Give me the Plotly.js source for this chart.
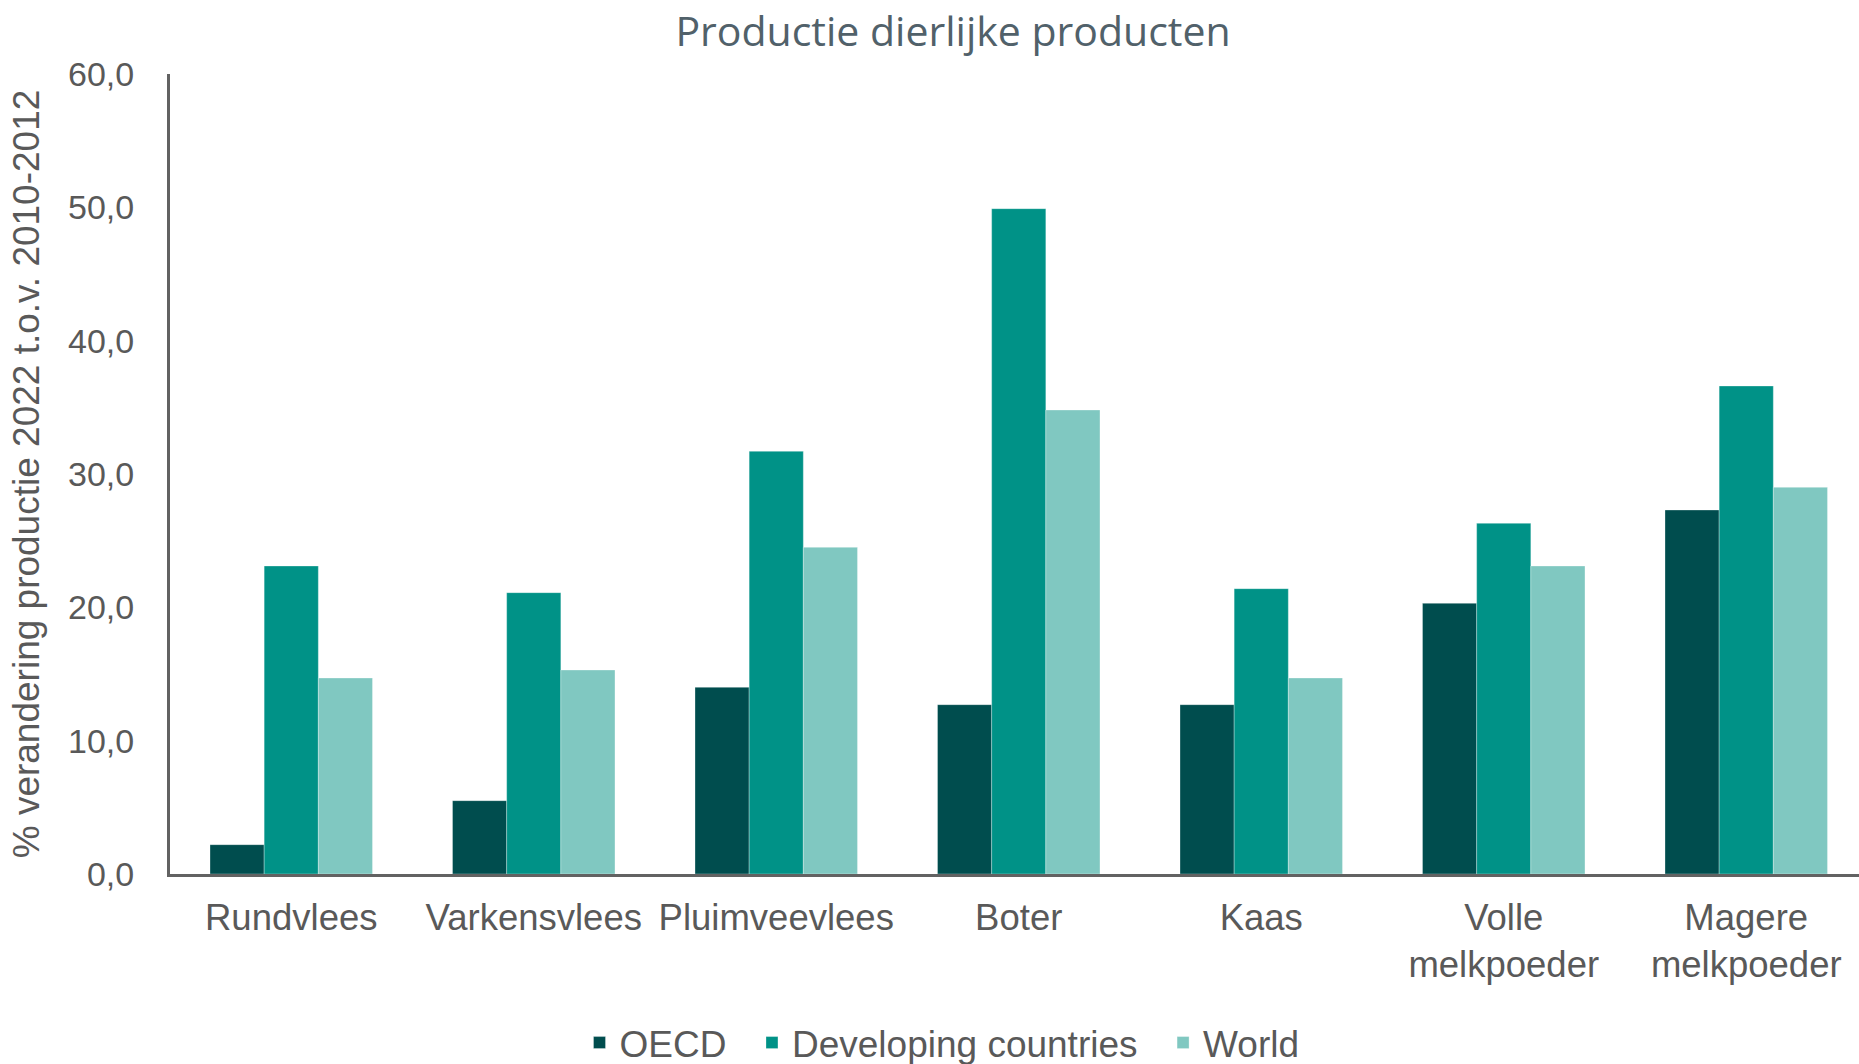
<!DOCTYPE html>
<html>
<head>
<meta charset="utf-8">
<script src="https://cdn.plot.ly/plotly-3.0.1.min.js"></script>
<style>html,body{margin:0;padding:0;background:#fff;}#chart{width:1859px;height:1064px;}</style>
</head>
<body>
<div id="chart"></div>
<script>
const categories = ["Rundvlees", "Varkensvlees", "Pluimveevlees", "Boter", "Kaas", "Volle<br>melkpoeder", "Magere<br>melkpoeder"];
const seriesNames = ["OECD", "Developing countries", "World"];
const oecd = [2.2, 5.5, 14.0, 12.7, 12.7, 20.3, 27.3];
const developing = [23.1, 21.1, 31.7, 49.9, 21.4, 26.3, 36.6];
const world = [14.7, 15.3, 24.5, 34.8, 14.7, 23.1, 29.0];
const yTickVals = [0, 10, 20, 30, 40, 50, 60];
const yTickText = ["0,0", "10,0", "20,0", "30,0", "40,0", "50,0", "60,0"];

const pad = "\u00a0\u00a0";
const lineStyle = {color: "rgba(255,255,255,0.6)", width: 0.5};
const traces = [
  {type: "bar", name: seriesNames[0] + pad, x: categories, y: oecd, marker: {color: "#004D4E", line: lineStyle}},
  {type: "bar", name: seriesNames[1] + pad, x: categories, y: developing, marker: {color: "#009287", line: lineStyle}},
  {type: "bar", name: seriesNames[2], x: categories, y: world, marker: {color: "#80C8C1", line: lineStyle}}
];

const layout = {
  width: 1859, height: 1064,
  paper_bgcolor: "#ffffff", plot_bgcolor: "#ffffff",
  margin: {l: 170, r: 0, t: 74, b: 190},
  barmode: "group", bargap: 0.33, bargroupgap: 0,
  showlegend: true,
  hovermode: false,
  title: {text: "Productie dierlijke producten", x: 953/1859, xref: "container", xanchor: "center", y: 1 - 32/1064, yref: "container", yanchor: "middle",
          font: {family: "Open Sans, Noto Sans, sans-serif", size: 41, color: "#51616A"}},
  xaxis: {
    type: "category",
    range: [-0.5, 6.465],
    showline: true, linecolor: "#626262", linewidth: 3,
    ticks: "", showgrid: false, zeroline: false,
    tickfont: {family: "Liberation Sans, Arial, sans-serif", size: 36.5, color: "#595959"},
    ticklabelstandoff: 9
  },
  yaxis: {
    range: [0, 60],
    tickvals: yTickVals, ticktext: yTickText,
    showline: true, linecolor: "#626262", linewidth: 3,
    ticks: "", showgrid: false, zeroline: false,
    tickfont: {family: "Liberation Sans, Arial, sans-serif", size: 34, color: "#595959"},
    ticklabelstandoff: 26,
    title: {text: "% verandering productie 2022 t.o.v. 2010-2012", standoff: 18,
            font: {family: "Liberation Sans Narrow, Arial Narrow, Liberation Sans, sans-serif", size: 37, color: "#595959"}}
  },
  legend: {
    orientation: "h", x: 942/1859, xref: "container", xanchor: "center", y: 1 - 1043/1064, yref: "container", yanchor: "middle",
    font: {family: "Liberation Sans, Arial, sans-serif", size: 37, color: "#595959"},
    itemwidth: 30, tracegroupgap: 0
  }
};

Plotly.newPlot("chart", traces, layout, {displayModeBar: false, staticPlot: true});
</script>
</body>
</html>
